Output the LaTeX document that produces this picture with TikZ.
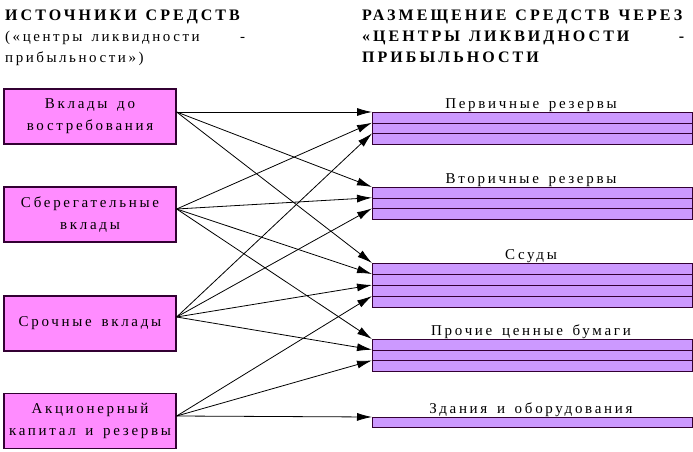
\documentclass[tikz,border=0pt]{standalone}
\usepackage{fontspec}
\setmainfont{Liberation Serif}
\newfontfamily\rs[LetterSpace=18,WordSpace=1.5]{Liberation Serif}
\newfontfamily\rsh[LetterSpace=19]{Liberation Serif}
\newfontfamily\rsn[LetterSpace=17]{Liberation Serif}
\newcommand\wsp{\hspace{9pt}}
\usetikzlibrary{arrows.meta}
\definecolor{srcfill}{HTML}{FF8CFF}
\definecolor{dstfill}{HTML}{CC99FF}
\definecolor{edge}{HTML}{330033}
\tikzset{
  srcbox/.style={draw=edge, line width=1.3pt, fill=srcfill, minimum width=172pt, minimum height=55pt, inner sep=0pt, align=center, font=\rs\fontsize{15}{22}\selectfont},
  stripe/.style={draw=edge, line width=1pt, fill=dstfill, minimum width=320pt, minimum height=10.7pt, inner sep=0pt, anchor=north west},
  lab/.style={font=\rs\fontsize{15}{16}\selectfont, anchor=base, inner sep=0pt},
  conn/.style={line width=0.8pt, -{Latex[length=15pt,width=8pt]}},
  head/.style={anchor=north west, inner sep=0pt, align=left, text width=240pt, font=\fontsize{15}{21}\selectfont}
}
\begin{document}
\begin{tikzpicture}[x=1pt,y=-1pt]
\useasboundingbox (0,0) rectangle (693,452);
\fill[white] (0,0) rectangle (693,452);
% headers
\node[head] (hl) at (5,10) {{\rsh\fontsize{16}{21}\selectfont\bfseries ИСТОЧНИКИ\wsp СРЕДСТВ}\\{\rsn(«центры\wsp ликвидности\hfill-}\\{\rsn прибыльности»)}};
\node[head, text width=322pt, font=\rsh\fontsize{16}{21}\selectfont\bfseries] (hr) at (362,10) {РАЗМЕЩЕНИЕ\wsp СРЕДСТВ\wsp ЧЕРЕЗ\\«ЦЕНТРЫ\wsp ЛИКВИДНОСТИ\hfill-\\ПРИБЫЛЬНОСТИ};
% source boxes
\node[srcbox] (b1) at (90,116.5) {Вклады до\\востребования};
\node[srcbox] (b2) at (90,214.5) {Сберегательные\\вклады};
\node[srcbox] (b3) at (90,323.5) {Срочные вклады};
\node[srcbox] (b4) at (90,421) {Акционерный\\капитал и резервы};
% coordinates of connector origins
\coordinate (o1) at ([yshift=4.5pt]b1.east);
\coordinate (o2) at ([yshift=5.5pt]b2.east);
\coordinate (o3) at ([yshift=6.5pt]b3.east);
\coordinate (o4) at ([yshift=5pt]b4.east);
% destination stripes
\node[stripe] (a1) at (372,112) {};
\node[stripe] (a2) at (372,122.7) {};
\node[stripe] (a3) at (372,133.4) {};
\node[stripe] (c1) at (372,187) {};
\node[stripe] (c2) at (372,197.7) {};
\node[stripe] (c3) at (372,208.4) {};
\node[stripe] (d1) at (372,263) {};
\node[stripe] (d2) at (372,274) {};
\node[stripe] (d3) at (372,285) {};
\node[stripe] (d4) at (372,296) {};
\node[stripe] (e1) at (372,339) {};
\node[stripe] (e2) at (372,349.7) {};
\node[stripe] (e3) at (372,360.4) {};
\node[stripe, minimum height=10pt] (f1) at (372,417) {};
% labels
\node[lab] (la) at (531,108) {Первичные резервы};
\node[lab] (lc) at (531,183) {Вторичные резервы};
\node[lab] (ld) at (531,259) {Ссуды};
\node[lab] (le) at (531,335) {Прочие ценные бумаги};
\node[lab] (lf) at (531,413) {Здания и оборудования};
% connectors
\draw[conn] (o1) -- (a1.north west);
\draw[conn] (o1) -- (c1.north west);
\draw[conn] (o1) -- (d1.north west);
\draw[conn] (o2) -- (a2.north west);
\draw[conn] (o2) -- (c2.north west);
\draw[conn] (o2) -- (d2.north west);
\draw[conn] (o2) -- (e1.north west);
\draw[conn] (o3) -- (a3.north west);
\draw[conn] (o3) -- (c3.north west);
\draw[conn] (o3) -- (d3.north west);
\draw[conn] (o3) -- (e2.north west);
\draw[conn] (o4) -- (d4.north west);
\draw[conn] (o4) -- (e3.north west);
\draw[conn] (o4) -- (f1.north west);
\end{tikzpicture}
\end{document}
